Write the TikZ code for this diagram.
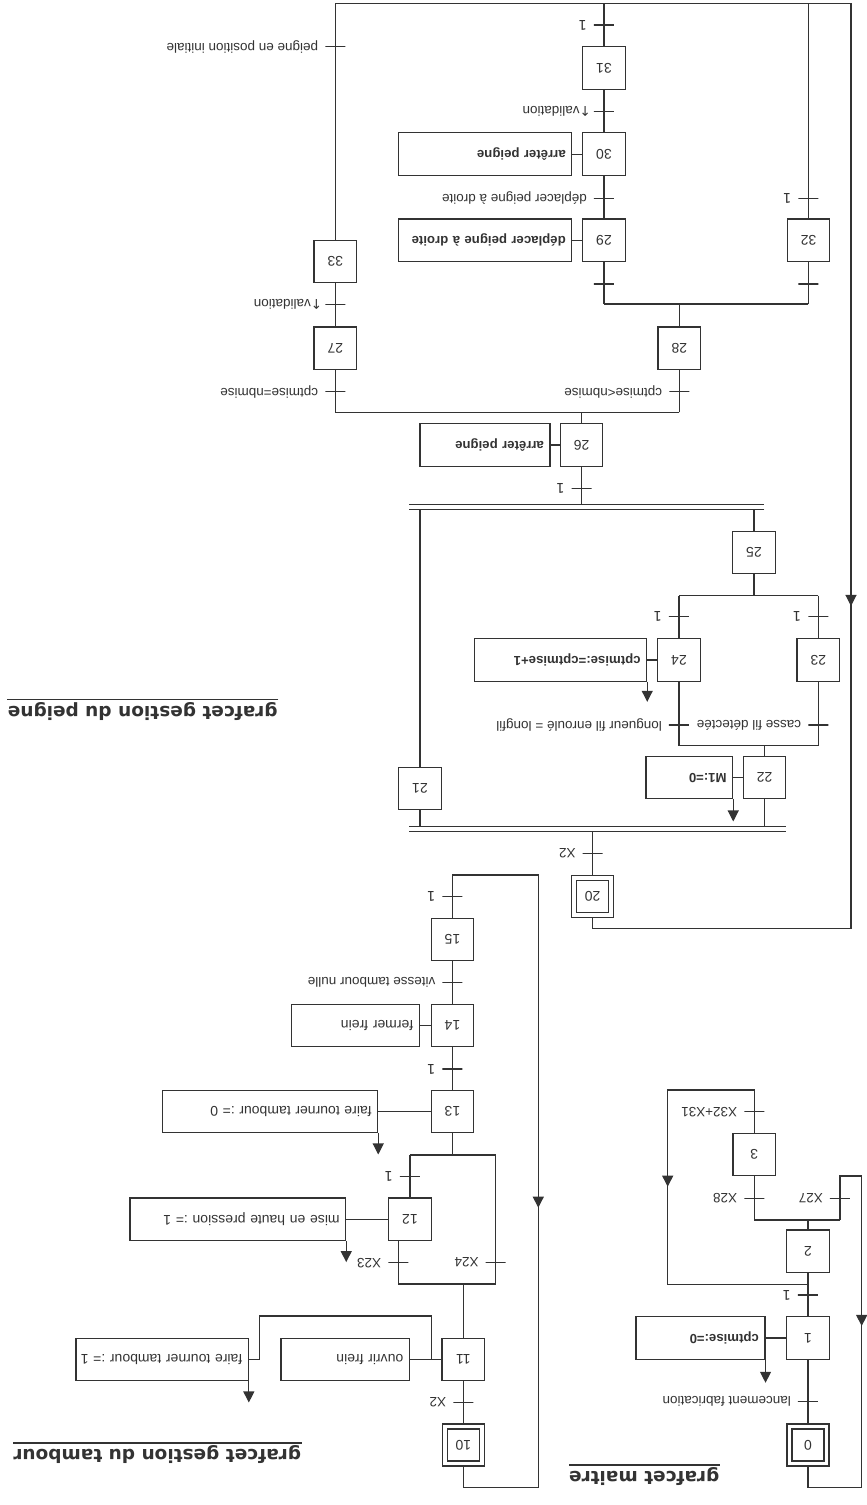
\documentclass[tikz,border=0pt]{standalone}
\usepackage{fontspec}
\setmainfont{Liberation Sans}
\newfontfamily\djv{DejaVu Sans}
\usepackage{tikz}
\usetikzlibrary{arrows.meta}

\begin{document}
\begin{tikzpicture}[x=1pt, y=-1pt, rotate=180, transform shape, line width=1.1pt, color=black!80, font=\fontsize{14}{16}\selectfont]
    \tikzstyle{stepbox} = [rectangle, draw, minimum size=42.5pt, inner sep=0pt]
    \tikzstyle{initstep} = [rectangle, draw, double, double distance=3.9pt, minimum size=37pt, inner sep=0pt, outer sep=3.05pt]
    \tikzstyle{act} = [rectangle, draw, minimum height=42.5pt, inner xsep=6pt, inner ysep=0pt, align=left]
    \tikzstyle{actb} = [act, font=\bfseries\fontsize{13.2}{15}\selectfont]
    \tikzstyle{transbar} = [rectangle, draw, minimum width=20pt, minimum height=0pt, inner sep=0pt]
    \tikzstyle{cond} = [anchor=west, inner xsep=6pt, inner ysep=0pt, font=\fontsize{13.5}{15}\selectfont]
    \tikzstyle{grtitle} = [anchor=south west, inner sep=0pt, font=\djv\bfseries\fontsize{18.5}{20}\selectfont]
    \tikzstyle{dbar} = [double, double distance=3.9pt]
    \tikzstyle{arrow} = [->, >={Triangle[width=11pt,length=11pt]}]

    \useasboundingbox (0,0) rectangle (867,1505);

    % grafcet maitre
    \node[grtitle] (tt1) at (147,38) {grafcet maitre};
    \draw[line width=1.5pt] ([yshift=-2pt]tt1.south west) -- ([yshift=-2pt]tt1.south east);

    \node[initstep] (s0) at (59,60) {0};
    \node[transbar] (t0) at (59,103.3) {};
    \node[cond] (c0) at (t0.east) {lancement fabrication};
    \node[stepbox] (s1) at (59,167) {1};
    \node[actb, text width=117pt] (a1) at (166.5,167) {cptmise:=0};
    \node[transbar] (t1) at (59,210) {};
    \node[cond] (c1) at (t1.east) {\djv 1};
    \node[stepbox] (s2) at (59,253.7) {2};
    \node[transbar] (t2a) at (27,306.7) {};
    \node[cond] (c2a) at (t2a.east) {X27};
    \node[transbar] (t2b) at (112.7,306.7) {};
    \node[cond] (c2b) at (t2b.east) {X28};
    \node[stepbox] (s3) at (112.7,350.3) {3};
    \node[transbar] (t3) at (112.7,393.3) {};
    \node[cond] (c3) at (t3.east) {X32+X31};

    \coordinate (j2) at (59,220.7);
    \coordinate (d2) at (59,285);
    \coordinate (d2a) at (27,285);
    \coordinate (d2b) at (112.7,285);
    \coordinate (r3) at (199.3,415);
    \coordinate (r27) at (5.3,329);
    \coordinate (top0) at (5.3,17.7);
    \coordinate (ar3) at (199.3,318.3);
    \coordinate (ar0) at (5.3,179);

    \draw (s0) -- (s1);
    \draw (s1) -- (a1);
    \draw [arrow] (a1.north west) -- ++(0,-23);
    \draw (s1) -- (s2);
    \draw (s2) -- (d2);
    \draw (d2a) -- (d2b);
    \draw (d2b) -- (s3);
    \draw (s3) |- (r3) |- (j2);
    \draw (d2a) |- (r27) -- (top0) -| (s0);
    \draw [arrow] (r3) -- (ar3);
    \draw [arrow] (r27) -- (ar0);

    % grafcet gestion du tambour
    \node[grtitle] (tt2) at (565.3,60) {grafcet gestion du tambour};
    \draw[line width=1.5pt] ([yshift=-2pt]tt2.south west) -- ([yshift=-2pt]tt2.south east);

    \node[initstep] (s10) at (403.7,60) {10};
    \node[transbar] (t10) at (403.7,102.3) {};
    \node[cond] (c10) at (t10.east) {X2};
    \node[stepbox] (s11) at (403.7,145.3) {11};
    \node[act, text width=116.3pt] (a11) at (521.85,145.3) {ouvrir frein};
    \node[act, text width=160.3pt] (a11b) at (704.85,145.3) {\mbox{faire tourner tambour := 1}};
    \node[transbar] (t11a) at (371.3,242.3) {};
    \node[cond] (c11a) at (t11a.east) {X24};
    \node[transbar] (t11b) at (468.7,242.3) {};
    \node[cond] (c11b) at (t11b.east) {X23};
    \node[stepbox] (s12) at (457,285.7) {12};
    \node[act, text width=203.7pt] (a12) at (629.15,285.7) {mise en haute pression := 1};
    \node[transbar] (t12) at (457,328.3) {};
    \node[cond] (c12) at (t12.east) {\djv 1};
    \node[stepbox] (s13) at (414.5,393.3) {13};
    \node[act, text width=203.4pt] (a13) at (597,393.3) {faire tourner tambour := 0};
    \node[transbar] (t13) at (414.5,436) {};
    \node[cond] (c13) at (t13.east) {\djv 1};
    \node[stepbox] (s14) at (414.5,479.3) {14};
    \node[act, text width=115.6pt] (a14) at (511.5,479.3) {fermer frein};
    \node[transbar] (t14) at (414.5,522.7) {};
    \node[cond] (c14) at (t14.east) {vitesse tambour nulle};
    \node[stepbox] (s15) at (414.5,565.3) {15};
    \node[transbar] (t15) at (414.5,608.3) {};
    \node[cond] (c15) at (t15.east) {\djv 1};

    \coordinate (k11) at (435.3,145.3);
    \coordinate (k11b) at (607.7,189);
    \coordinate (d11) at (403.7,221);
    \coordinate (d11a) at (371.3,221);
    \coordinate (d11b) at (468.7,221);
    \coordinate (g13) at (414.5,350);
    \coordinate (g13a) at (371.3,350);
    \coordinate (g13b) at (457,350);
    \coordinate (r15) at (328.7,630);
    \coordinate (top10) at (328.7,17.7);
    \coordinate (ar10) at (328.7,297.3);

    \draw (s10) -- (s11);
    \draw (s11) -- (a11);
    \draw (a11b) -| (k11b) -| (k11);
    \draw [arrow] (a11b.north west) -- ++(0,-21);
    \draw (s11) -- (d11);
    \draw (d11a) -- (d11b);
    \draw (d11b) -- (s12.north -| d11b);
    \draw (s12) -- (a12);
    \draw [arrow] (a12.north west) -- ++(0,-21);
    \draw (s12) -- (g13b);
    \draw (d11a) -- (g13a);
    \draw (g13a) -- (g13b);
    \draw (g13) -- (s13);
    \draw (s13) -- (a13);
    \draw [arrow] (a13.north west) -- ++(0,-21);
    \draw (s13) -- (s14);
    \draw (s14) -- (a14);
    \draw (s14) -- (s15);
    \draw (s15) |- (r15) -- (top10) -| (s10);
    \draw [arrow] (r15) -- (ar10);

    % grafcet gestion du peigne
    \node[grtitle] (tt3) at (588.7,803.3) {grafcet gestion du peigne};
    \draw[line width=1.5pt] ([yshift=-2pt]tt3.south west) -- ([yshift=-2pt]tt3.south east);

    \node[initstep] (s20) at (274.3,608.3) {20};
    \node[transbar] (t20) at (274.3,651.7) {};
    \node[cond] (c20) at (t20.east) {X2};
    \node[stepbox] (s21) at (447,716.3) {21};
    \node[stepbox] (s22) at (102.3,727.3) {22};
    \node[actb, text width=74.7pt] (a22) at (177.65,727.3) {M1:=0};
    \node[transbar] (t23) at (48.7,780) {};
    \node[cond] (c23) at (t23.east) {casse fil détectée};
    \node[transbar] (t24) at (188,780) {};
    \node[cond] (c24) at (t24.east) {longueur fil enroulé = longfil};
    \node[stepbox] (s23) at (48.7,845) {23};
    \node[stepbox] (s24) at (188,845) {24};
    \node[actb, text width=160.4pt] (a24) at (306.5,845) {cptmise:=cptmise+1};
    \node[transbar] (t23b) at (48.7,888.3) {};
    \node[cond] (c23b) at (t23b.east) {\djv 1};
    \node[transbar] (t24b) at (188,888.3) {};
    \node[cond] (c24b) at (t24b.east) {\djv 1};
    \node[stepbox] (s25) at (113,952.3) {25};
    \node[transbar] (t25) at (285.3,1016.7) {};
    \node[cond] (c25) at (t25.east) {\djv 1};
    \node[stepbox] (s26) at (285.3,1060) {26};
    \node[actb, text width=118pt] (a26) at (382,1060) {arrêter peigne};
    \node[transbar] (t28) at (187.7,1113.3) {};
    \node[cond] (c28) at (t28.east) {cptmise<nbmise};
    \node[transbar] (t27) at (531.7,1113.3) {};
    \node[cond] (c27) at (t27.east) {cptmise=nbmise};
    \node[stepbox] (s28) at (187.7,1156.7) {28};
    \node[stepbox] (s27) at (531.7,1156.7) {27};
    \node[transbar] (t27b) at (531.7,1200.7) {};
    \node[cond, inner xsep=2pt] (c27b) at (t27b.east) {{\djv ↑}validation};
    \node[stepbox] (s33) at (531.7,1243.3) {33};
    \node[transbar] (t33) at (531.7,1458.3) {};
    \node[cond] (c33) at (t33.east) {peigne en position initiale};
    \node[transbar] (t29a) at (263,1221) {};
    \node[transbar] (t32a) at (58.5,1221) {};
    \node[stepbox] (s29) at (263,1264.7) {29};
    \node[actb, text width=161.4pt] (a29) at (381.9,1264.7) {déplacer peigne à droite};
    \node[stepbox] (s32) at (58.5,1264.7) {32};
    \node[transbar] (t29) at (263,1306.7) {};
    \node[cond] (c29) at (t29.east) {déplacer peigne à droite};
    \node[transbar] (t32) at (58.5,1306.7) {};
    \node[cond] (c32) at (t32.east) {\djv 1};
    \node[stepbox] (s30) at (263,1350.8) {30};
    \node[actb, text width=161.4pt] (a30) at (381.9,1350.8) {arrêter peigne};
    \node[transbar] (t30) at (263,1393.3) {};
    \node[cond, inner xsep=2pt] (c30) at (t30.east) {{\djv ↑}validation};
    \node[stepbox] (s31) at (263,1437) {31};
    \node[transbar] (t31) at (263,1480) {};
    \node[cond] (c31) at (t31.east) {\djv 1};

    \coordinate (p20) at (274.3,675.8);
    \coordinate (pl) at (81,675.8);
    \coordinate (pr) at (457.7,675.8);
    \coordinate (p21) at (447,675.8);
    \coordinate (p22) at (102.3,675.8);
    \coordinate (d22) at (102.3,759.3);
    \coordinate (d23) at (48.7,759.3);
    \coordinate (d24) at (188,759.3);
    \coordinate (g23) at (48.7,909.3);
    \coordinate (g24) at (188,909.3);
    \coordinate (g25) at (113,909.3);
    \coordinate (ql) at (102.7,998.2);
    \coordinate (qr) at (457.7,998.2);
    \coordinate (q21) at (447,998.2);
    \coordinate (q25) at (113,998.2);
    \coordinate (q26) at (285.3,998.2);
    \coordinate (d26) at (285.3,1092.7);
    \coordinate (d27) at (531.7,1092.7);
    \coordinate (d28) at (187.7,1092.7);
    \coordinate (d28b) at (187.7,1201);
    \coordinate (d29) at (263,1201);
    \coordinate (d32) at (58.5,1201);
    \coordinate (e31) at (263,1501.7);
    \coordinate (e32) at (58.5,1501.7);
    \coordinate (e33) at (531.7,1501.7);
    \coordinate (r20) at (16,1501.7);
    \coordinate (top20) at (16,576.7);
    \coordinate (ar20) at (16,899);

    \draw (s20) -- (p20);
    \draw (p21) -- (s21);
    \draw (p22) -- (s22);
    \draw (s22) -- (a22);
    \draw [arrow] (a22.north west) -- ++(0,-22);
    \draw (s22) -- (d22);
    \draw (d23) -- (d24);
    \draw (d23) -- (s23);
    \draw (d24) -- (s24);
    \draw (s24) -- (a24);
    \draw [arrow] (a24.north west) -- ++(0,-20);
    \draw (s23) -- (g23);
    \draw (s24) -- (g24);
    \draw (g23) -- (g24);
    \draw (g25) -- (s25);
    \draw (s25) -- (q25);
    \draw (s21) -- (q21);
    \draw (q26) -- (s26);
    \draw [dbar] (pl) -- (pr);
    \draw [dbar] (ql) -- (qr);
    \draw (s26) -- (a26);
    \draw (s26) -- (d26);
    \draw (d28) -- (d27);
    \draw (d28) -- (s28);
    \draw (d27) -- (s27);
    \draw (s27) -- (s33);
    \draw (s33) -- (e33);
    \draw (s28) -- (d28b);
    \draw (d32) -- (d29);
    \draw (d32) -- (s32);
    \draw (d29) -- (s29);
    \draw (s29) -- (a29);
    \draw (s29) -- (s30);
    \draw (s30) -- (a30);
    \draw (s30) -- (s31);
    \draw (s31) -- (e31);
    \draw (s32) -- (e32);
    \draw (e33) -- (r20) -- (top20) -| (s20);
    \draw [arrow] (r20) -- (ar20);
\end{tikzpicture}
\end{document}
